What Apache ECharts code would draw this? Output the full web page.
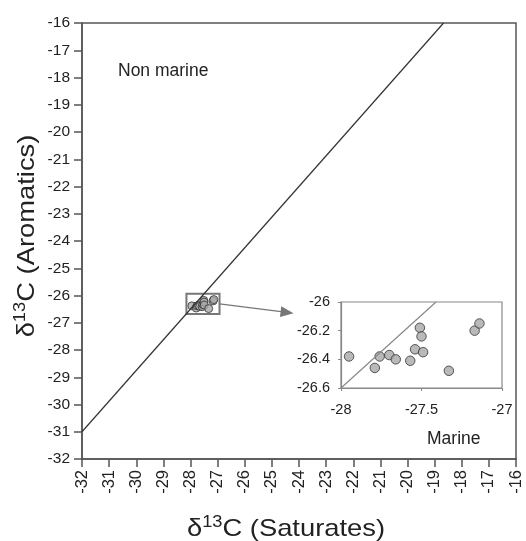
<!DOCTYPE html>
<html>
<head>
<meta charset="utf-8">
<script src="https://cdn.jsdelivr.net/npm/echarts@6/dist/echarts.min.js"></script>
<style>
  html, body { margin: 0; padding: 0; background: #fff; }
  #chart { width: 526px; height: 541px; }
</style>
</head>
<body>
<div id="chart"></div>
<script>
// Isotope values (Saturates vs Aromatics)
const satValues = [-27.95, -27.79, -27.76, -27.70, -27.66, -27.57, -27.54, -27.51, -27.50, -27.49, -27.33, -27.17, -27.14];
const aroValues = [-26.38, -26.46, -26.38, -26.37, -26.40, -26.41, -26.33, -26.18, -26.24, -26.35, -26.48, -26.20, -26.15];

// Dividing line, main panel and inset
const mainLineX = [-32, -18.67];
const mainLineY = [-31, -16];
const insetLineX = [-28, -27.41];
const insetLineY = [-26.6, -26];

// Zoom box and arrow (main panel data units)
const zoomBox = [[-28.15, -26.68], [-26.93, -25.94]];
const arrowFrom = [-26.93, -26.31];
const arrowTo = [-24.44, -26.62];

const points = satValues.map((x, i) => [x, aroValues[i]]);
const mainLine = mainLineX.map((x, i) => [x, mainLineY[i]]);
const insetLine = insetLineX.map((x, i) => [x, insetLineY[i]]);

const font = 'Liberation Sans, Arial, sans-serif';
const dark = '#555';
const ink = '#222';

// rich text for the delta-13C titles
const titleRich = {
    a: { fontSize: 24, fontFamily: font, fill: ink, verticalAlign: 'bottom' },
    s: { fontSize: 16, fontFamily: font, fill: ink, verticalAlign: 'bottom', padding: [0, 0, 10, 0] }
};

const chart = echarts.init(document.getElementById('chart'));

chart.setOption({
    backgroundColor: '#fff',
    animation: false,
    grid: [
        { left: 82, top: 23, width: 434, height: 436, show: true, borderColor: dark, borderWidth: 1.5 },
        { left: 341, top: 302, width: 161, height: 86, show: true, borderColor: '#888', borderWidth: 1.2, backgroundColor: '#fff' }
    ],
    xAxis: [
        {
            gridIndex: 0, type: 'value', min: -32, max: -16, interval: 1,
            axisLine: { show: true, lineStyle: { color: dark, width: 1.5 } },
            axisTick: { show: true, length: 8, lineStyle: { color: dark, width: 1.5 } },
            axisLabel: { rotate: 90, margin: 11, fontSize: 16.5, fontFamily: font, color: ink },
            splitLine: { show: false }
        },
        {
            gridIndex: 1, type: 'value', min: -28, max: -27, interval: 0.5,
            axisLine: { show: true, lineStyle: { color: '#888', width: 1.2 } },
            axisTick: { show: true, length: 3, lineStyle: { color: '#888' } },
            axisLabel: { margin: 14, fontSize: 14.5, fontFamily: font, color: ink },
            splitLine: { show: false }
        }
    ],
    yAxis: [
        {
            gridIndex: 0, type: 'value', min: -32, max: -16, interval: 1,
            axisLine: { show: true, lineStyle: { color: dark, width: 1.5 } },
            axisTick: { show: true, length: 8, lineStyle: { color: dark, width: 1.5 } },
            axisLabel: { margin: 12, fontSize: 15.5, fontFamily: font, color: ink },
            splitLine: { show: false }
        },
        {
            gridIndex: 1, type: 'value', min: -26.6, max: -26, interval: 0.2,
            axisLine: { show: true, lineStyle: { color: '#888', width: 1.2 } },
            axisTick: { show: true, length: 3, lineStyle: { color: '#888' } },
            axisLabel: { margin: 11, fontSize: 14.5, fontFamily: font, color: ink },
            splitLine: { show: false }
        }
    ],
    series: [
        {
            type: 'line', xAxisIndex: 0, yAxisIndex: 0, data: mainLine,
            symbol: 'none', lineStyle: { color: '#333', width: 1.2 }, silent: true
        },
        {
            type: 'scatter', xAxisIndex: 0, yAxisIndex: 0, data: points,
            symbolSize: 8,
            itemStyle: { color: '#a8a8a8', borderColor: '#333', borderWidth: 1 },
            markArea: {
                silent: true,
                itemStyle: { color: 'rgba(0,0,0,0)', borderColor: '#777', borderWidth: 2 },
                data: [[{ coord: zoomBox[0] }, { coord: zoomBox[1] }]]
            },
            markLine: {
                silent: true,
                symbol: ['none', 'triangle'], symbolSize: [11, 13],
                label: { show: false },
                lineStyle: { color: '#777', width: 1.2, type: 'solid' },
                data: [[{ coord: arrowFrom }, { coord: arrowTo }]]
            }
        },
        {
            type: 'line', xAxisIndex: 1, yAxisIndex: 1, data: insetLine,
            symbol: 'none', lineStyle: { color: '#888', width: 1.2 }, silent: true
        },
        {
            type: 'scatter', xAxisIndex: 1, yAxisIndex: 1, data: points,
            symbolSize: 9.5,
            itemStyle: { color: '#a8a8a8', borderColor: '#333', borderWidth: 1 }
        }
    ],
    graphic: [
        { type: 'text', left: 118, top: 62, style: { text: 'Non marine', fontSize: 17.5, fontFamily: font, fill: ink } },
        { type: 'text', left: 427, top: 430, style: { text: 'Marine', fontSize: 17.5, fontFamily: font, fill: ink } },
        // axis titles, drawn a little wider than the plain font to match the original
        {
            type: 'text', x: 286, y: 528, scaleX: 1.14,
            style: { text: '{a|δ}{s|13}{a|C (Saturates)}', rich: titleRich, align: 'center', verticalAlign: 'middle' }
        },
        {
            type: 'text', x: 26, y: 236, rotation: Math.PI / 2, scaleX: 1.14,
            style: { text: '{a|δ}{s|13}{a|C (Aromatics)}', rich: titleRich, align: 'center', verticalAlign: 'middle' }
        }
    ]
});
</script>
</body>
</html>
